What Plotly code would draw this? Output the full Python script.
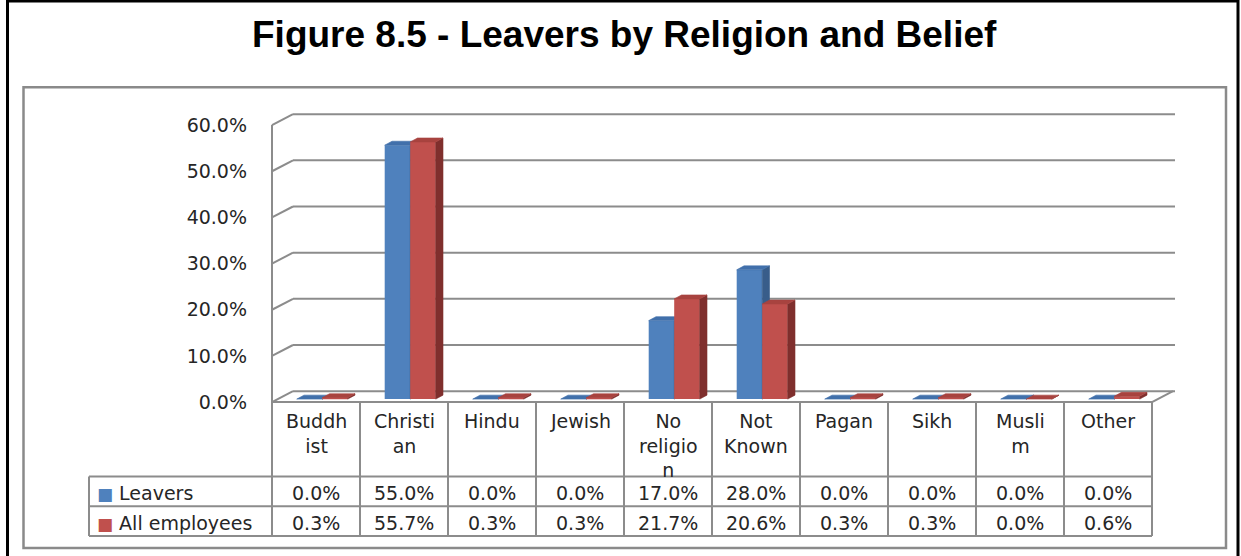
import plotly.graph_objects as go

# ---------------- data ----------------
categories = ["Buddhist", "Christian", "Hindu", "Jewish", "No religion",
              "Not Known", "Pagan", "Sikh", "Muslim", "Other"]
category_labels = ["Buddh<br>ist", "Christi<br>an", "Hindu", "Jewish",
                   "No<br>religio<br>n", "Not<br>Known", "Pagan", "Sikh",
                   "Musli<br>m", "Other"]
series_names = ["Leavers", "All employees"]
leavers = [0.0, 55.0, 0.0, 0.0, 17.0, 28.0, 0.0, 0.0, 0.0, 0.0]
all_employees = [0.3, 55.7, 0.3, 0.3, 21.7, 20.6, 0.3, 0.3, 0.0, 0.6]
y_ticks = [0, 10, 20, 30, 40, 50, 60]
title_text = "Figure 8.5 - Leavers by Religion and Belief"

# ---------------- page geometry (pixels) ----------------
W, H = 1241, 556
COL_LEFT = 272          # front-left edge of the chart floor / first table column
COL_W = 88              # one category column
Y_BASE = 405            # front floor edge (0 %)
PX_PER_PCT = 4.65       # pixels per percentage point
PLOT_LEFT, PLOT_RIGHT = 262, 1192
PLOT_TOP, PLOT_BOTTOM = 100, 412
WALL_DX, WALL_DY = 21, 11       # offset of the back wall
BAR_DX, BAR_DY = 5.7, 3         # bars stand a little behind the front plane
DEPTH_DX, DEPTH_DY = 7.3, 4     # visible depth of each bar
BAR_W = 25.5
SERIES_OFFSETS = [-25.0, 0.5]   # front face left edge relative to column centre

TABLE_LEFT = 89
ROW_HEADER_BOTTOM = 480
ROW_H = 30

FONT = "DejaVu Sans"
TXT = "#262626"
GRID = "#8C8C8C"

COLORS = [
    dict(front="#4F81BD", top="#4170AB", side="#385D8A"),
    dict(front="#C0504D", top="#A8433F", side="#7F2F2D"),
]


def xp(px):
    return px / W


def yp(px):
    return 1 - px / H


n = len(categories)
x_range = [-0.5 - (COL_LEFT - PLOT_LEFT) / COL_W, -0.5 + (PLOT_RIGHT - COL_LEFT) / COL_W]
y_range = [(Y_BASE - PLOT_BOTTOM) / PX_PER_PCT, (Y_BASE - PLOT_TOP) / PX_PER_PCT]

fig = go.Figure()

# ---------------- 3-D style bars: one overlaid subplot per series ----------------
ddx = DEPTH_DX / COL_W
ddy = DEPTH_DY / PX_PER_PCT
idx = list(range(n))
for s, (name, vals) in enumerate(zip(series_names, [leavers, all_employees])):
    ax = str(s + 2)
    off = SERIES_OFFSETS[s] / COL_W
    w = BAR_W / COL_W
    top_x, top_y, side_x, side_y = [], [], [], []
    for i, v in enumerate(vals):
        x0 = i + off
        x1 = x0 + w
        top_x += [x0, x1, x1 + ddx, x0 + ddx, x0, None]
        top_y += [v, v, v + ddy, v + ddy, v, None]
        side_x += [x1, x1 + ddx, x1 + ddx, x1, x1, None]
        side_y += [0, ddy, v + ddy, v, 0, None]
    c = COLORS[s]
    fig.add_trace(go.Bar(
        x=idx, y=vals, offset=off, width=w, name=name,
        marker=dict(color=c["front"], line=dict(width=0)),
        xaxis="x" + ax, yaxis="y" + ax, showlegend=False, hoverinfo="skip"))
    fig.add_trace(go.Scatter(
        x=side_x, y=side_y, mode="lines", fill="toself", fillcolor=c["side"],
        line=dict(color=c["side"], width=0.6), xaxis="x" + ax, yaxis="y" + ax,
        showlegend=False, hoverinfo="skip"))
    fig.add_trace(go.Scatter(
        x=top_x, y=top_y, mode="lines", fill="toself", fillcolor=c["top"],
        line=dict(color=c["top"], width=0.6), xaxis="x" + ax, yaxis="y" + ax,
        showlegend=False, hoverinfo="skip"))

# ---------------- walls, floor and gridlines (front-plane coordinates) ----------------
shapes = []
wdx = WALL_DX / COL_W
wdy = WALL_DY / PX_PER_PCT
line_style = dict(color=GRID, width=2)
for v in y_ticks:
    shapes.append(dict(type="line", xref="x", yref="y", x0=-0.5 + wdx, x1=n - 0.5 + wdx + 2 / COL_W,
                       y0=v + wdy, y1=v + wdy, line=line_style, layer="below"))
    shapes.append(dict(type="line", xref="x", yref="y", x0=-0.5, x1=-0.5 + wdx,
                       y0=v, y1=v + wdy, line=line_style, layer="below"))
shapes.append(dict(type="line", xref="x", yref="y", x0=-0.5, x1=-0.5, y0=0, y1=y_ticks[-1],
                   line=line_style, layer="below"))
shapes.append(dict(type="line", xref="x", yref="y", x0=n - 0.5, x1=n - 0.5 + wdx, y0=0, y1=wdy,
                   line=line_style, layer="below"))

# ---------------- data table grid ----------------
table_bottom = ROW_HEADER_BOTTOM + 2 * ROW_H
for k in range(n + 1):
    shapes.append(dict(type="line", xref="x", yref="paper", x0=k - 0.5, x1=k - 0.5,
                       y0=yp(Y_BASE), y1=yp(table_bottom), line=line_style))
shapes.append(dict(type="line", xref="x", yref="y", x0=-0.5, x1=n - 0.5, y0=0, y1=0,
                   line=line_style))
table_right = COL_LEFT + n * COL_W
for r in range(3):
    yy = ROW_HEADER_BOTTOM + r * ROW_H
    shapes.append(dict(type="line", xref="paper", yref="paper", x0=xp(TABLE_LEFT), x1=xp(table_right),
                       y0=yp(yy), y1=yp(yy), line=line_style))
shapes.append(dict(type="line", xref="paper", yref="paper", x0=xp(TABLE_LEFT), x1=xp(TABLE_LEFT),
                   y0=yp(ROW_HEADER_BOTTOM), y1=yp(table_bottom), line=line_style))

# chart area and outer frame (left, top and right edges)
shapes.append(dict(type="rect", xref="paper", yref="paper", x0=xp(23.5), x1=xp(1226),
                   y0=yp(552), y1=yp(88), line=dict(color="#8A8A8A", width=2.5)))
shapes.append(dict(type="path", xref="paper", yref="paper",
                   path=f"M {xp(7.5)},{yp(570)} L {xp(7.5)},{yp(1)} L {xp(1238)},{yp(1)} L {xp(1238)},{yp(570)}",
                   line=dict(color="#000000", width=3)))

# ---------------- text ----------------
annotations = [dict(text="<b>" + title_text + "</b>", xref="paper", yref="paper",
                    x=xp(624), y=yp(35), xanchor="center", yanchor="middle", showarrow=False,
                    font=dict(family="Liberation Sans, Arial", size=37, color="#000000"))]
tfont = dict(family=FONT, size=19, color=TXT)
for i, lab in enumerate(category_labels):
    annotations.append(dict(text=lab, xref="x", yref="paper", x=i, y=yp(411),
                            xanchor="center", yanchor="top", align="center",
                            showarrow=False, font=tfont))
for r, vals in enumerate([leavers, all_employees]):
    yy = yp(ROW_HEADER_BOTTOM + r * ROW_H + ROW_H / 2 + 1.5)
    for i, v in enumerate(vals):
        annotations.append(dict(text=f"{v:.1f}%", xref="x", yref="paper", x=i, y=yy,
                                xanchor="center", yanchor="middle", showarrow=False, font=tfont))
    key = f'<span style="color:{COLORS[r]["front"]};font-size:17px">\u25A0</span> {series_names[r]}'
    annotations.append(dict(text=key, xref="paper", yref="paper", x=xp(95), y=yy,
                            xanchor="left", yanchor="middle", showarrow=False, font=tfont))

hidden = dict(visible=False, showgrid=False, zeroline=False, fixedrange=True)
layout_axes = dict(
    xaxis=dict(domain=[xp(PLOT_LEFT), xp(PLOT_RIGHT)], range=x_range, anchor="y",
               showgrid=False, zeroline=False, showticklabels=False, showline=False, ticks=""),
    yaxis=dict(domain=[yp(PLOT_BOTTOM), yp(PLOT_TOP)], range=y_range, anchor="x",
               showgrid=False, zeroline=False, showline=False, ticks="",
               tickvals=y_ticks, ticktext=[f"{v:.1f}%" for v in y_ticks],
               tickfont=tfont, ticklabelstandoff=14),
)
for s in range(len(series_names)):
    ax = str(s + 2)
    layout_axes["xaxis" + ax] = dict(hidden, domain=[xp(PLOT_LEFT + BAR_DX), xp(PLOT_RIGHT + BAR_DX)],
                                     range=x_range, anchor="y" + ax)
    layout_axes["yaxis" + ax] = dict(hidden, domain=[yp(PLOT_BOTTOM - BAR_DY), yp(PLOT_TOP - BAR_DY)],
                                     range=y_range, anchor="x" + ax)

fig.update_layout(
    width=W, height=H, margin=dict(l=0, r=0, t=0, b=0),
    paper_bgcolor="#FFFFFF", plot_bgcolor="rgba(0,0,0,0)",
    showlegend=False, barmode="overlay",
    shapes=shapes, annotations=annotations,
    **layout_axes,
)

fig.write_html("out.html")
